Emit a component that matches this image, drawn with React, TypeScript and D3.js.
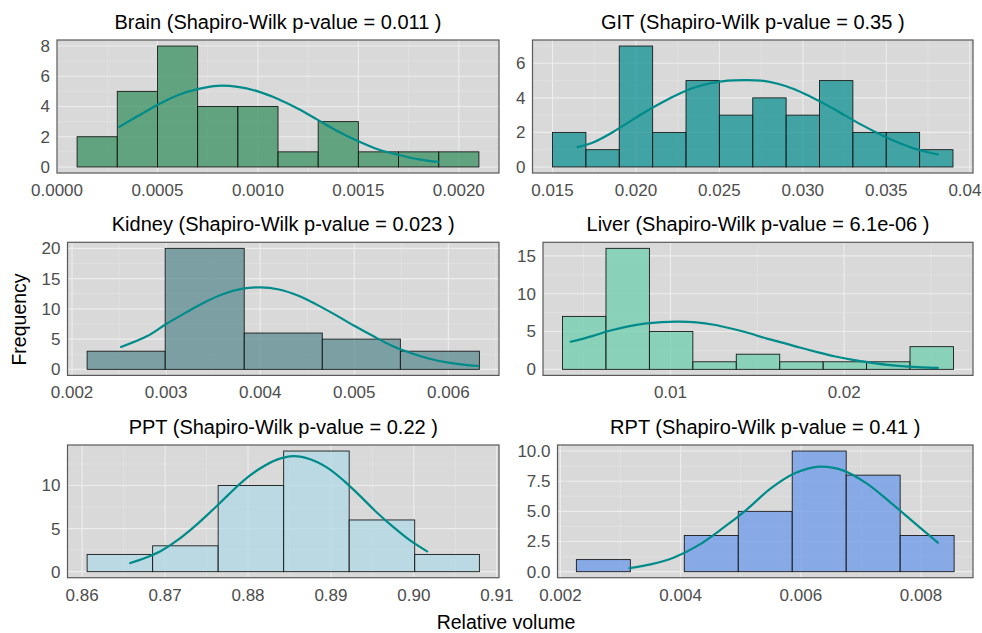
import React from "react";
import * as d3 from "d3";

const W = 982;
const H = 633;

// ---- Brain ----
const brainEdges = [0.0001, 0.0003, 0.0005, 0.0007, 0.0009, 0.0011, 0.0013, 0.0015, 0.0017, 0.0019, 0.0021];
const brainCounts = [2, 5, 8, 4, 4, 1, 3, 1, 1, 1];
const brainFitX = [0.00031, 0.0004, 0.0005, 0.0006, 0.0007, 0.0008, 0.0009, 0.001, 0.0011, 0.0012, 0.0013, 0.0014, 0.0015, 0.0016, 0.0017, 0.0018, 0.0019];
const brainFitY = [2.65, 3.35, 4.1, 4.75, 5.15, 5.37, 5.3, 5.0, 4.5, 3.85, 3.1, 2.35, 1.7, 1.15, 0.8, 0.5, 0.33];
const brainXTicks = [0, 0.0005, 0.001, 0.0015, 0.002];
const brainYTicks = [0, 2, 4, 6, 8];

// ---- GIT ----
const gitEdges = [0.015, 0.017, 0.019, 0.021, 0.023, 0.025, 0.027, 0.029, 0.031, 0.033, 0.035, 0.037, 0.039];
const gitCounts = [2, 1, 7, 2, 5, 3, 4, 3, 5, 2, 2, 1];
const gitFitX = [0.0165, 0.0175, 0.0185, 0.0195, 0.0205, 0.0215, 0.0225, 0.0235, 0.0245, 0.0255, 0.0265, 0.0275, 0.0285, 0.0295, 0.0305, 0.0315, 0.0325, 0.0335, 0.0345, 0.0355, 0.0365, 0.0375, 0.0381];
const gitFitY = [1.15, 1.45, 1.95, 2.55, 3.15, 3.7, 4.2, 4.6, 4.85, 5.0, 5.03, 5.0, 4.82, 4.5, 4.05, 3.55, 3.0, 2.45, 1.95, 1.5, 1.12, 0.85, 0.72];
const gitXTicks = [0.015, 0.02, 0.025, 0.03, 0.035, 0.04];
const gitYTicks = [0, 2, 4, 6];

// ---- Kidney ----
const kidneyEdges = [0.00216, 0.00299, 0.00383, 0.00466, 0.00549, 0.00633];
const kidneyCounts = [3, 20, 6, 5, 3];
const kidneyFitX = [0.00252, 0.0028, 0.003, 0.0032, 0.0034, 0.0036, 0.0038, 0.004, 0.0042, 0.0044, 0.0046, 0.0048, 0.005, 0.0052, 0.0054, 0.0056, 0.0058, 0.006, 0.0062, 0.00632];
const kidneyFitY = [3.7, 5.5, 7.5, 9.3, 11.0, 12.4, 13.3, 13.55, 13.2, 12.2, 10.7, 9.0, 7.2, 5.5, 3.9, 2.7, 1.75, 1.1, 0.7, 0.55];
const kidneyXTicks = [0.002, 0.003, 0.004, 0.005, 0.006];
const kidneyYTicks = [0, 5, 10, 15, 20];

// ---- Liver ----
const liverEdges = [0.00379, 0.00629, 0.00879, 0.01129, 0.01379, 0.01629, 0.01879, 0.02129, 0.02379, 0.02629];
const liverCounts = [7, 16, 5, 1, 2, 1, 1, 1, 3];
const liverFitX = [0.00426, 0.0055, 0.0065, 0.0075, 0.0085, 0.0095, 0.0105, 0.0115, 0.0125, 0.0135, 0.0145, 0.0155, 0.0165, 0.0175, 0.0185, 0.0195, 0.0205, 0.0215, 0.0225, 0.0235, 0.0245, 0.0254];
const liverFitY = [3.65, 4.4, 5.1, 5.65, 6.05, 6.25, 6.3, 6.2, 5.9, 5.4, 4.8, 4.1, 3.5, 2.85, 2.25, 1.7, 1.25, 0.9, 0.6, 0.4, 0.27, 0.2];
const liverXTicks = [0.01, 0.02];
const liverYTicks = [0, 5, 10, 15];

// ---- PPT ----
const pptEdges = [0.8606, 0.8685, 0.8764, 0.8843, 0.8922, 0.9001, 0.9079];
const pptCounts = [2, 3, 10, 14, 6, 2];
const pptFitX = [0.8658, 0.8675, 0.8695, 0.8715, 0.8735, 0.8755, 0.8775, 0.8795, 0.8815, 0.8835, 0.8855, 0.8875, 0.8895, 0.8915, 0.8935, 0.8955, 0.8975, 0.8995, 0.9016];
const pptFitY = [1.0, 1.55, 2.4, 3.65, 5.2, 6.95, 8.8, 10.6, 12.0, 13.0, 13.4, 13.05, 12.1, 10.6, 8.8, 6.9, 5.2, 3.65, 2.35];
const pptXTicks = [0.86, 0.87, 0.88, 0.89, 0.9, 0.91];
const pptYTicks = [0, 5, 10];

// ---- RPT ----
const rptEdges = [0.002265, 0.003163, 0.004061, 0.004959, 0.005857, 0.006755, 0.007653, 0.008551];
const rptCounts = [1, 0, 3, 5, 10, 8, 3];
const rptFitX = [0.00315, 0.0035, 0.0039, 0.0043, 0.0047, 0.0051, 0.0055, 0.0059, 0.0063, 0.0067, 0.0071, 0.0075, 0.0079, 0.00828];
const rptFitY = [0.3, 0.6, 1.2, 2.2, 3.6, 5.15, 6.9, 8.15, 8.7, 8.4, 7.3, 5.7, 4.0, 2.4];
const rptXTicks = [0.002, 0.004, 0.006, 0.008];
const rptYTicks = [0, 2.5, 5, 7.5, 10];

const FONT = "'Liberation Sans', Arial, Helvetica, sans-serif";
const PANEL_BG = "#D9D9D9";
const CURVE = "#008B8B";

type Panel = {
  title: string;
  edges: number[];
  counts: number[];
  fitX: number[];
  fitY: number[];
  xTicks: number[];
  yTicks: number[];
  xFmt: (v: number) => string;
  yFmt: (v: number) => string;
  fill: string;
  box: { x0: number; x1: number; y0: number; y1: number };
};

const panels: Panel[] = [
  {
    title: "Brain (Shapiro-Wilk p-value = 0.011 )",
    edges: brainEdges, counts: brainCounts, fitX: brainFitX, fitY: brainFitY,
    xTicks: brainXTicks, yTicks: brainYTicks,
    xFmt: d3.format(".4f"), yFmt: d3.format("d"),
    fill: "#2E8B57",
    box: { x0: 57, x1: 499, y0: 40, y1: 173 },
  },
  {
    title: "GIT (Shapiro-Wilk p-value = 0.35 )",
    edges: gitEdges, counts: gitCounts, fitX: gitFitX, fitY: gitFitY,
    xTicks: gitXTicks, yTicks: gitYTicks,
    xFmt: d3.format(".3f"), yFmt: d3.format("d"),
    fill: "#008B8B",
    box: { x0: 532.5, x1: 973, y0: 40, y1: 173 },
  },
  {
    title: "Kidney (Shapiro-Wilk p-value = 0.023 )",
    edges: kidneyEdges, counts: kidneyCounts, fitX: kidneyFitX, fitY: kidneyFitY,
    xTicks: kidneyXTicks, yTicks: kidneyYTicks,
    xFmt: d3.format(".3f"), yFmt: d3.format("d"),
    fill: "#53868B",
    box: { x0: 67.5, x1: 499, y0: 242.3, y1: 375.4 },
  },
  {
    title: "Liver (Shapiro-Wilk p-value = 6.1e-06 )",
    edges: liverEdges, counts: liverCounts, fitX: liverFitX, fitY: liverFitY,
    xTicks: liverXTicks, yTicks: liverYTicks,
    xFmt: d3.format(".2f"), yFmt: d3.format("d"),
    fill: "#66CDAA",
    box: { x0: 543, x1: 973, y0: 242.3, y1: 375.4 },
  },
  {
    title: "PPT (Shapiro-Wilk p-value = 0.22 )",
    edges: pptEdges, counts: pptCounts, fitX: pptFitX, fitY: pptFitY,
    xTicks: pptXTicks, yTicks: pptYTicks,
    xFmt: d3.format(".2f"), yFmt: d3.format("d"),
    fill: "#ADD8E6",
    box: { x0: 67.5, x1: 499, y0: 445, y1: 577.7 },
  },
  {
    title: "RPT (Shapiro-Wilk p-value = 0.41 )",
    edges: rptEdges, counts: rptCounts, fitX: rptFitX, fitY: rptFitY,
    xTicks: rptXTicks, yTicks: rptYTicks,
    xFmt: d3.format(".3f"), yFmt: d3.format(".1f"),
    fill: "#6495ED",
    box: { x0: 557.5, x1: 973, y0: 445, y1: 577.7 },
  },
];

// midpoints between major ticks, extended one half-step past each end
function minorTicks(major: number[], domain: [number, number]): number[] {
  if (major.length < 2) return [];
  const step = major[1] - major[0];
  const out: number[] = [];
  for (let v = major[0] - step / 2; v <= domain[1] + 1e-12; v += step) {
    if (v >= domain[0] && v <= domain[1]) out.push(v);
  }
  return out;
}

function HistPanel({ p }: { p: Panel }) {
  const { x0, x1, y0, y1 } = p.box;
  const lo = p.edges[0];
  const hi = p.edges[p.edges.length - 1];
  const pad = (hi - lo) * 0.05;
  const xDom: [number, number] = [lo - pad, hi + pad];
  const yMax = d3.max(p.counts) as number;
  const yDom: [number, number] = [-yMax * 0.05, yMax * 1.05];
  const x = d3.scaleLinear().domain(xDom).range([x0, x1]);
  const y = d3.scaleLinear().domain(yDom).range([y1, y0]);

  const xMinor = minorTicks(p.xTicks, xDom);
  const yMinor = minorTicks(p.yTicks, yDom);

  const line = d3
    .line<number>()
    .x((_, i) => x(p.fitX[i]))
    .y((d) => y(d))
    .curve(d3.curveCatmullRom.alpha(0.5));

  const clipId = "clip-" + p.title.split(" ")[0];

  return (
    <g>
      <defs>
        <clipPath id={clipId}>
          <rect x={x0} y={y0} width={x1 - x0} height={y1 - y0} />
        </clipPath>
      </defs>
      <rect x={x0} y={y0} width={x1 - x0} height={y1 - y0} fill={PANEL_BG} />
      <g clipPath={`url(#${clipId})`}>
        {xMinor.map((v) => (
          <line key={"xm" + v} x1={x(v)} x2={x(v)} y1={y0} y2={y1} stroke="#E4E4E4" strokeWidth={0.7} />
        ))}
        {yMinor.map((v) => (
          <line key={"ym" + v} x1={x0} x2={x1} y1={y(v)} y2={y(v)} stroke="#E4E4E4" strokeWidth={0.7} />
        ))}
        {p.xTicks.map((v) => (
          <line key={"xM" + v} x1={x(v)} x2={x(v)} y1={y0} y2={y1} stroke="#EDEDED" strokeWidth={1.1} />
        ))}
        {p.yTicks.map((v) => (
          <line key={"yM" + v} x1={x0} x2={x1} y1={y(v)} y2={y(v)} stroke="#EDEDED" strokeWidth={1.1} />
        ))}
        {p.counts.map((c, i) => (
          <rect
            key={"b" + i}
            x={x(p.edges[i])}
            y={y(c)}
            width={x(p.edges[i + 1]) - x(p.edges[i])}
            height={y(0) - y(c)}
            fill={p.fill}
            fillOpacity={0.7}
            stroke="#1A1A1A"
            strokeWidth={0.9}
          />
        ))}
        <path d={line(p.fitY) || ""} fill="none" stroke={CURVE} strokeWidth={2.2} strokeLinecap="round" />
      </g>
      <rect x={x0} y={y0} width={x1 - x0} height={y1 - y0} fill="none" stroke="#595959" strokeWidth={1.2} />
      {p.yTicks.map((v) => (
        <text
          key={"yl" + v}
          x={x0 - 7}
          y={y(v)}
          dy="0.35em"
          textAnchor="end"
          fontSize={17}
          fill="#4D4D4D"
          fontFamily={FONT}
        >
          {p.yFmt(v)}
        </text>
      ))}
      {p.xTicks.map((v) => (
        <text
          key={"xl" + v}
          x={x(v)}
          y={y1 + 23}
          textAnchor="middle"
          fontSize={17}
          fill="#4D4D4D"
          fontFamily={FONT}
        >
          {p.xFmt(v)}
        </text>
      ))}
      <text
        x={(x0 + x1) / 2}
        y={y0 - 11.5}
        textAnchor="middle"
        fontSize={20}
        fill="#000"
        fontFamily={FONT}
      >
        {p.title}
      </text>
    </g>
  );
}

export default function App() {
  return (
    <div style={{ position: "fixed", left: 0, top: 0, width: W, height: H, background: "#fff" }}>
      <svg width={W} height={H} viewBox={`0 0 ${W} ${H}`} style={{ display: "block" }}>
        <rect x={0} y={0} width={W} height={H} fill="#fff" />
        {panels.map((p) => (
          <HistPanel key={p.title} p={p} />
        ))}
        <text
          transform="translate(25.5, 319.5) rotate(-90)"
          textAnchor="middle"
          fontSize={19.5}
          fill="#000"
          fontFamily={FONT}
        >
          Frequency
        </text>
        <text x={506} y={629} textAnchor="middle" fontSize={19.5} fill="#000" fontFamily={FONT}>
          Relative volume
        </text>
      </svg>
    </div>
  );
}
